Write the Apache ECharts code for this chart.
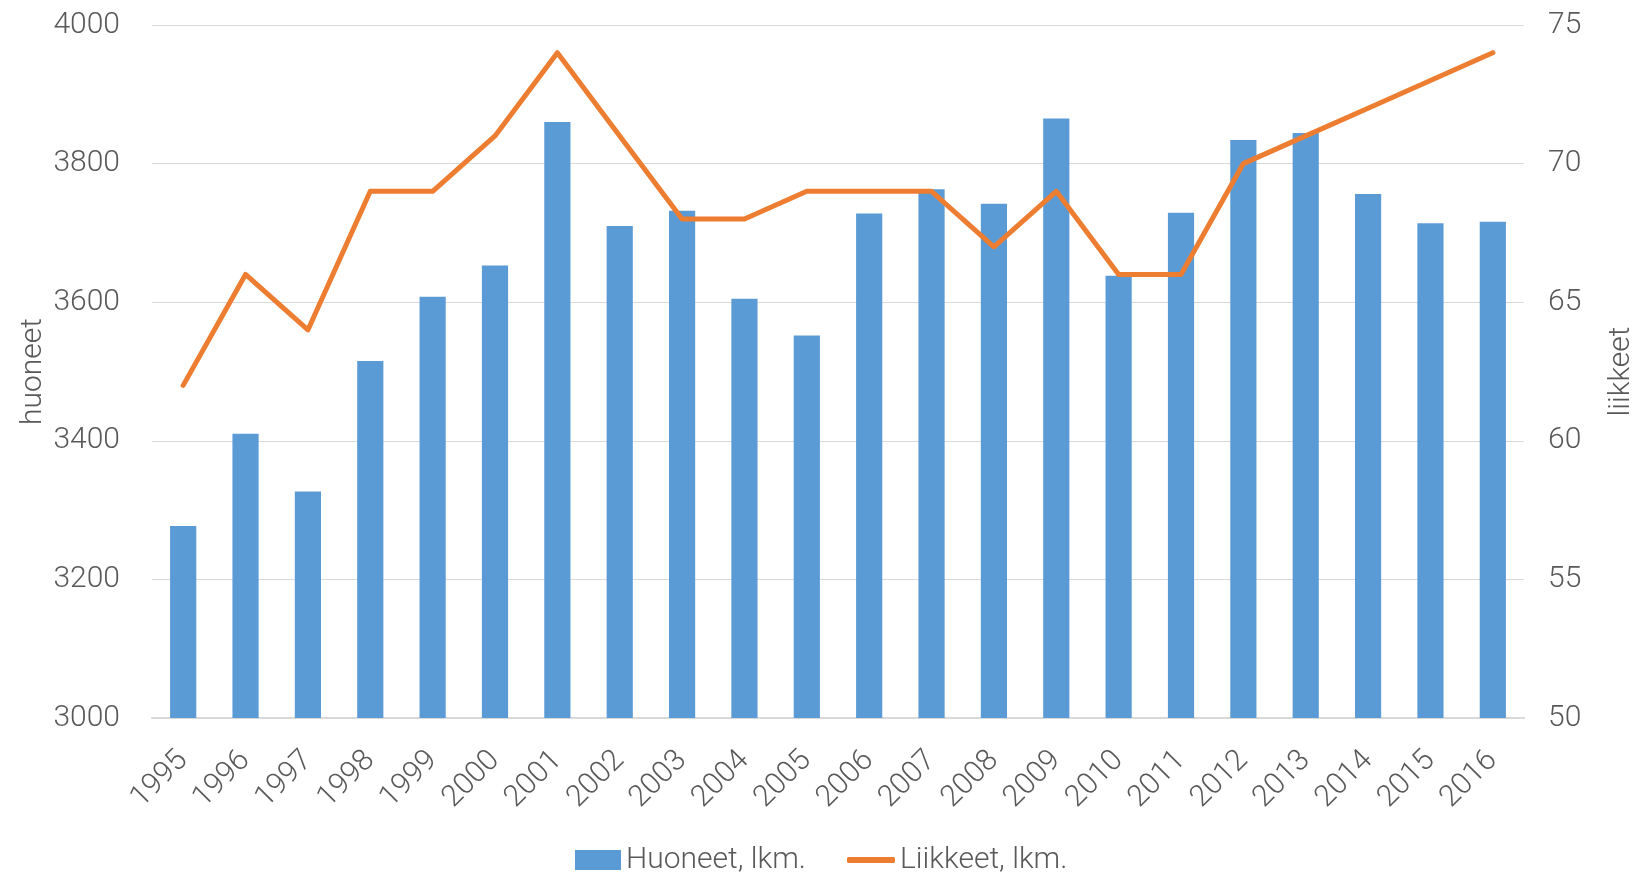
<!DOCTYPE html>
<html>
<head>
<meta charset="utf-8">
<script src="https://cdn.jsdelivr.net/npm/echarts@6/dist/echarts.min.js"></script>
<style>html,body{margin:0;padding:0;background:#fff}#c{width:1639px;height:875px}</style>
</head>
<body>
<div id="c"></div>
<script>
const years = ['1995','1996','1997','1998','1999','2000','2001','2002','2003','2004','2005','2006','2007','2008','2009','2010','2011','2012','2013','2014','2015','2016'];
const huoneet = [3277,3410,3327,3515,3608,3653,3860,3710,3732,3605,3552,3728,3763,3742,3865,3638,3729,3834,3844,3756,3714,3716];
const liikkeet = [62,66,64,69,69,71,74,71,68,68,69,69,69,67,69,66,66,70,71,72,73,74];
const seriesNames = ['Huoneet, lkm.','Liikkeet, lkm.'];
const axisNames = ['huoneet','liikkeet'];

const FONT = 'Roboto';
const TXT = '#595959';
const legendText = {fontFamily:FONT,fontWeight:300,fontSize:30,color:TXT};
const chart = echarts.init(document.getElementById('c'), null, {renderer:'canvas'});
chart.setOption({
  animation:false,
  backgroundColor:'#ffffff',
  textStyle:{fontFamily:FONT,fontWeight:300,color:TXT},
  grid:{left:152,right:115,top:25,bottom:157,containLabel:false,outerBoundsMode:'none'},
  legend:[{
    left:575,top:845,padding:0,itemWidth:46,itemHeight:20,
    textStyle:legendText,
    data:[{name:seriesNames[0],icon:'rect'}]
  },{
    left:847,top:845,padding:0,itemWidth:48,itemHeight:6,
    textStyle:legendText,
    data:[{name:seriesNames[1],icon:'roundRect'}]
  }],
  xAxis:{
    type:'category',data:years,
    axisLine:{lineStyle:{color:'#D9D9D9',width:2}},
    axisTick:{show:false},
    axisLabel:{rotate:45,fontSize:30,color:TXT,fontFamily:FONT,fontWeight:300,margin:38,interval:0}
  },
  yAxis:[{
    type:'value',min:3000,max:4000,interval:200,
    name:axisNames[0],nameLocation:'middle',nameGap:104,nameRotate:90,nameMoveOverlap:false,
    nameTextStyle:{fontSize:30,color:TXT,fontFamily:FONT,fontWeight:300},
    axisLine:{show:false},axisTick:{show:false},
    axisLabel:{fontSize:30,color:TXT,fontFamily:FONT,fontWeight:300,margin:32,formatter:function(v){return String(v);}},
    splitLine:{lineStyle:{color:'#D9D9D9',width:1}}
  },{
    type:'value',min:50,max:75,interval:5,
    name:axisNames[1],nameLocation:'middle',nameGap:82,nameRotate:90,
    nameTextStyle:{fontSize:30,color:TXT,fontFamily:FONT,fontWeight:300},
    axisLine:{show:false},axisTick:{show:false},
    axisLabel:{fontSize:30,color:TXT,fontFamily:FONT,fontWeight:300,margin:24},
    splitLine:{show:false}
  }],
  series:[{
    name:seriesNames[0],type:'bar',data:huoneet,yAxisIndex:0,
    barWidth:'42%',itemStyle:{color:'#5B9BD5'}
  },{
    name:seriesNames[1],type:'line',data:liikkeet,yAxisIndex:1,
    symbol:'none',showSymbol:false,
    lineStyle:{color:'#ED7D31',width:5,cap:'round',join:'round'},
    itemStyle:{color:'#ED7D31'}
  }]
});
</script>
</body>
</html>
